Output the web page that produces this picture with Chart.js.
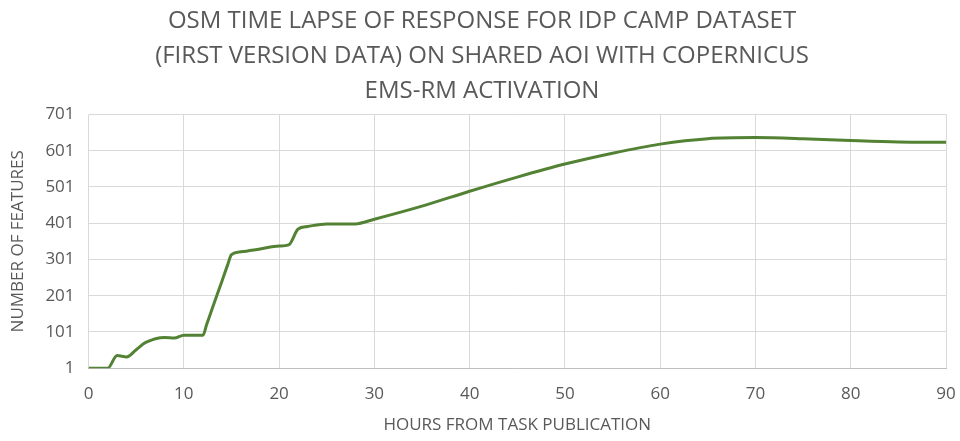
<!DOCTYPE html>
<html>
<head>
<meta charset="utf-8">
<script src="https://cdn.jsdelivr.net/npm/chart.js@4"></script>
<style>
    html, body { margin: 0; padding: 0; background: #fff; }
    #wrap { width: 960px; height: 441px; }
</style>
</head>
<body>
<div id="wrap"><canvas id="osm-lapse"></canvas></div>
<script>
// values
const hours = [0, 2, 3, 4, 5, 6, 8, 9, 10, 12, 12.4, 13, 14, 14.6, 15, 16, 18, 20, 21, 22, 23, 25, 28, 30, 35, 40, 45, 50, 55, 60, 65, 70, 75, 80, 85, 90];
const features = [1, 1, 36, 32, 52, 72, 86, 84, 92, 92, 122, 167, 241, 286, 314, 322, 330, 338, 341, 385, 392, 399, 399, 412, 448, 489, 528, 564, 594, 619, 634, 637, 634, 629, 625, 624];
const yTicks = [1, 101, 201, 301, 401, 501, 601, 701];
const titleLines = [
    'OSM TIME LAPSE OF RESPONSE FOR IDP CAMP DATASET',
    '(FIRST VERSION DATA) ON SHARED AOI WITH COPERNICUS',
    'EMS-RM ACTIVATION'
];

const textGrey = '#595959';
const fontFamily = '"Open Sans", sans-serif';

new Chart(document.getElementById('osm-lapse'), {
    type: 'line',
    data: {
        datasets: [{
            data: hours.map((h, i) => ({x: h, y: features[i]})),
            borderColor: '#548235',
            borderWidth: 3,
            pointRadius: 0,
            cubicInterpolationMode: 'monotone',
            fill: false
        }]
    },
    options: {
        responsive: true,
        maintainAspectRatio: false,
        animation: false,
        layout: {padding: {left: 4, right: 0, top: 4, bottom: 6}},
        plugins: {
            legend: {display: false},
            tooltip: {enabled: false},
            title: {
                display: true,
                text: titleLines,
                color: textGrey,
                font: {family: fontFamily, size: 24, weight: 'normal', lineHeight: 1.45},
                padding: {top: 0, bottom: 6}
            }
        },
        scales: {
            x: {
                type: 'linear',
                min: 0,
                max: 90,
                // keep only a small gap right of the plot, like the original
                afterFit: (scale) => { scale.paddingRight = 14; },
                ticks: {
                    stepSize: 10,
                    color: textGrey,
                    font: {family: fontFamily, size: 17},
                    padding: 16
                },
                grid: {color: '#d9d9d9', drawTicks: false},
                border: {color: '#bfbfbf'},
                title: {
                    display: true,
                    text: 'HOURS FROM TASK PUBLICATION',
                    color: textGrey,
                    font: {family: fontFamily, size: 17},
                    padding: {top: -6, bottom: 0}
                }
            },
            y: {
                type: 'linear',
                min: 1,
                max: 701,
                afterBuildTicks: (axis) => { axis.ticks = yTicks.map(v => ({value: v})); },
                ticks: {
                    color: textGrey,
                    font: {family: fontFamily, size: 17},
                    padding: 14
                },
                grid: {color: '#d9d9d9', drawTicks: false},
                border: {display: false},
                title: {
                    display: true,
                    text: 'NUMBER OF FEATURES',
                    color: textGrey,
                    font: {family: fontFamily, size: 17},
                    padding: {bottom: 3}
                }
            }
        }
    }
});
</script>
</body>
</html>
